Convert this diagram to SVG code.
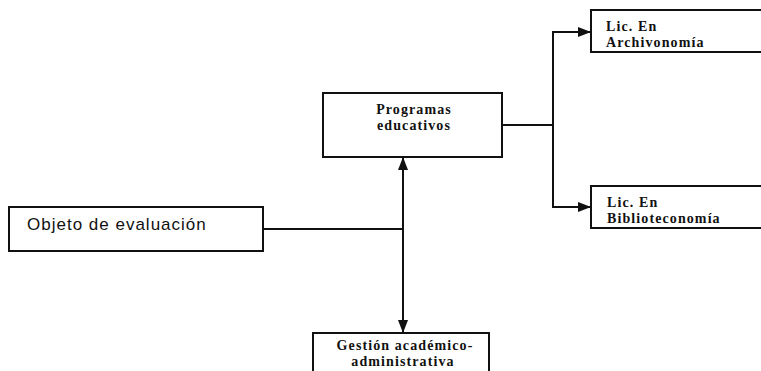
<svg xmlns="http://www.w3.org/2000/svg" width="761" height="371" viewBox="0 0 761 371">
<style>
.box{fill:#fff;stroke:#111;stroke-width:2}
.lbl{font-family:"Liberation Serif",serif;font-size:14px;font-weight:bold;letter-spacing:1.1px;fill:#111}
.big{font-family:"Liberation Sans",sans-serif;font-size:17px;letter-spacing:1px;fill:#111}
.con{fill:none;stroke:#111;stroke-width:2}
</style>
<defs>
<marker id="ah" markerUnits="userSpaceOnUse" markerWidth="13" markerHeight="10" refX="13" refY="5" orient="auto">
<path d="M0,0 L13,5 L0,10 z" fill="#111"/>
</marker>
</defs>
<rect width="761" height="371" fill="#fff"/>
<g id="connectors">
<path class="con" d="M263 229 H403"/>
<path class="con" d="M403 229 V157" marker-end="url(#ah)"/>
<path class="con" d="M403 229 V333" marker-end="url(#ah)"/>
<path class="con" d="M502 125 H553"/>
<path class="con" d="M553 125 V32 H591" marker-end="url(#ah)"/>
<path class="con" d="M553 125 V207 H591" marker-end="url(#ah)"/>
</g>
<g id="objeto">
<rect class="box" x="9" y="207" width="254" height="44"/>
<text class="big" x="27" y="230">Objeto de evaluación</text>
</g>
<g id="programas">
<rect class="box" x="323" y="93" width="179" height="64"/>
<text class="lbl" x="414" y="114" text-anchor="middle">Programas</text>
<text class="lbl" x="414" y="130" text-anchor="middle">educativos</text>
</g>
<g id="archivonomia">
<rect class="box" x="591" y="10" width="180" height="42"/>
<text class="lbl" x="606" y="31">Lic. En</text>
<text class="lbl" x="606" y="47">Archivonomía</text>
</g>
<g id="biblioteconomia">
<rect class="box" x="591" y="186" width="180" height="42"/>
<text class="lbl" x="607" y="207">Lic. En</text>
<text class="lbl" x="607" y="223">Biblioteconomía</text>
</g>
<g id="gestion">
<rect class="box" x="313" y="333" width="176" height="50"/>
<text class="lbl" x="405" y="350" text-anchor="middle">Gestión académico-</text>
<text class="lbl" x="403" y="366" text-anchor="middle">administrativa</text>
</g>
</svg>
